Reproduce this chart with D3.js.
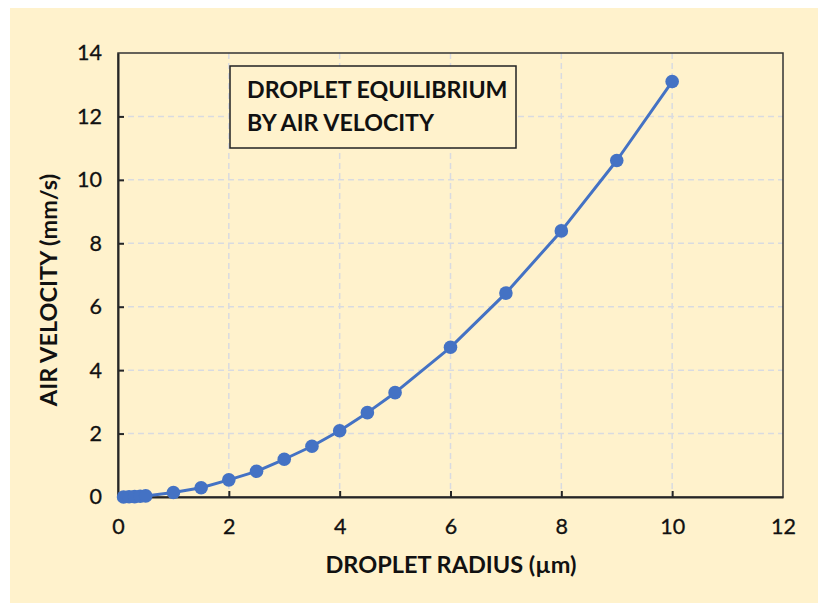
<!DOCTYPE html>
<html>
<head>
<meta charset="utf-8">
<script src="https://cdn.jsdelivr.net/npm/d3@7"></script>
<style>
  html, body { margin: 0; padding: 0; background: #ffffff; }
  svg { display: block; }
</style>
</head>
<body>
<script>
// ---- data ----
const radius = [0.1, 0.2, 0.3, 0.4, 0.5, 1, 1.5, 2, 2.5, 3, 3.5, 4, 4.5, 5, 6, 7, 8, 9, 10];
const velocity = [0.002, 0.006, 0.012, 0.022, 0.035, 0.14, 0.29, 0.54, 0.81, 1.19, 1.6, 2.09, 2.66, 3.29, 4.72, 6.43, 8.39, 10.61, 13.1];
const xTicks = [0, 2, 4, 6, 8, 10, 12];
const yTicks = [0, 2, 4, 6, 8, 10, 12, 14];
const titleLines = ["DROPLET EQUILIBRIUM", "BY AIR VELOCITY"];
const xLabel = "DROPLET RADIUS (µm)";
const yLabel = "AIR VELOCITY (mm/s)";

const W = 818, H = 603;
const plot = { left: 118, right: 783, top: 53, bottom: 497 };
const font = "Lato, 'Open Sans', sans-serif";

const svg = d3.select("body").append("svg").attr("width", W).attr("height", H);

svg.append("rect").attr("x", 10).attr("y", 8).attr("width", W - 10).attr("height", H - 8)
  .attr("fill", "#FFF2CC");

const x = d3.scaleLinear().domain([0, 12]).range([plot.left, plot.right]);
const y = d3.scaleLinear().domain([0, 14]).range([plot.bottom, plot.top]);

// gridlines
const grid = svg.append("g").attr("stroke", "#D9DBE0").attr("stroke-width", 1.5).attr("stroke-dasharray", "6,4");
grid.selectAll("line.v").data(xTicks.filter(t => t > 0 && t < 12)).join("line")
  .attr("x1", d => x(d)).attr("x2", d => x(d)).attr("y1", plot.top).attr("y2", plot.bottom);
grid.selectAll("line.h").data(yTicks.filter(t => t > 0 && t < 14)).join("line")
  .attr("y1", d => y(d)).attr("y2", d => y(d)).attr("x1", plot.left).attr("x2", plot.right);

// plot border (top/right)
svg.append("rect").attr("x", plot.left).attr("y", plot.top)
  .attr("width", plot.right - plot.left).attr("height", plot.bottom - plot.top)
  .attr("fill", "none").attr("stroke", "#333333").attr("stroke-width", 1.5);

// axes
const xAxis = svg.append("g").attr("transform", `translate(0,${plot.bottom})`)
  .call(d3.axisBottom(x).tickValues(xTicks).tickSizeInner(-6).tickSizeOuter(0).tickPadding(22));
const yAxis = svg.append("g").attr("transform", `translate(${plot.left},0)`)
  .call(d3.axisLeft(y).tickValues(yTicks).tickSizeInner(-6).tickSizeOuter(0).tickPadding(16));
[xAxis, yAxis].forEach(a => {
  a.select(".domain").attr("stroke", "#262626").attr("stroke-width", 2);
  a.selectAll(".tick line").attr("stroke", "#262626").attr("stroke-width", 2);
  a.selectAll(".tick text").attr("font-family", font).attr("font-size", 21.5).attr("fill", "#111111")
    .attr("stroke", "#111111").attr("stroke-width", 0.3);
});
xAxis.selectAll(".tick line").filter(d => d === 0 || d === 12).remove();
yAxis.selectAll(".tick line").filter(d => d === 0 || d === 14).remove();

// title box
const box = svg.append("g");
box.append("rect").attr("x", 230).attr("y", 66).attr("width", 286).attr("height", 82)
  .attr("fill", "#FFF2CC").attr("stroke", "#222222").attr("stroke-width", 1.5);
box.selectAll("text").data(titleLines).join("text")
  .attr("x", 247).attr("y", (d, i) => 98 + i * 33)
  .attr("font-family", font).attr("font-weight", "bold").attr("font-size", 23.2)
  .attr("fill", "#111111").text(d => d);

// line + markers
const pts = radius.map((r, i) => [r, velocity[i]]);
svg.append("path").datum(pts)
  .attr("fill", "none").attr("stroke", "#4472C4").attr("stroke-width", 3).attr("stroke-linejoin", "round")
  .attr("d", d3.line().x(d => x(d[0])).y(d => y(d[1])));
svg.append("g").selectAll("circle").data(pts).join("circle")
  .attr("cx", d => x(d[0])).attr("cy", d => y(d[1])).attr("r", 6.8).attr("fill", "#4472C4");

// axis titles
svg.append("text").attr("x", 451).attr("y", 573).attr("text-anchor", "middle")
  .attr("font-family", font).attr("font-weight", "bold").attr("font-size", 23.5)
  .attr("fill", "#111111").text(xLabel);
svg.append("text").attr("transform", "translate(57,290) rotate(-90)").attr("text-anchor", "middle")
  .attr("font-family", font).attr("font-weight", "bold").attr("font-size", 23.5)
  .attr("fill", "#111111").text(yLabel);
</script>
</body>
</html>
